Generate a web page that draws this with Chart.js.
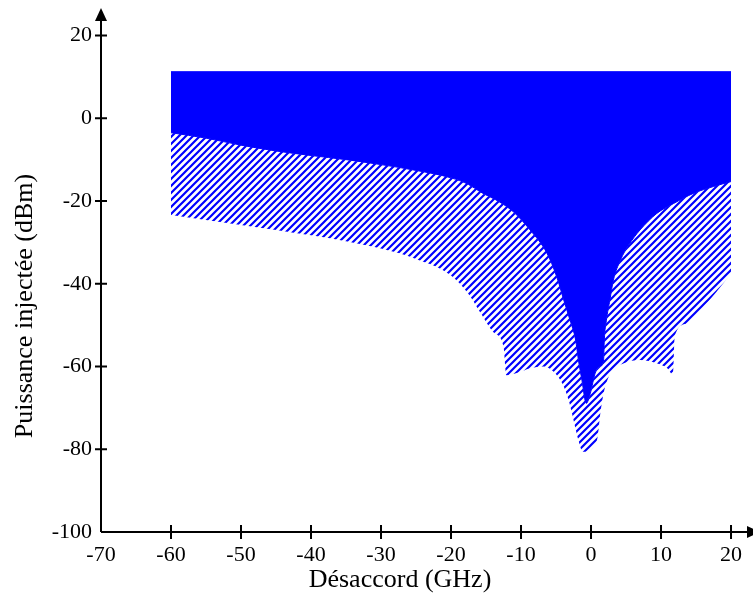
<!DOCTYPE html>
<html>
<head>
<meta charset="utf-8">
<script src="https://cdn.jsdelivr.net/npm/chart.js@4/dist/chart.umd.min.js"></script>
<style>
  body { margin: 0; background: #fff; }
  canvas { display: block; }
</style>
</head>
<body>
<canvas id="data-chart" width="753" height="598"></canvas>
<script>
// puissance max injectee (haut de la zone pleine)
const xHaut = [-60, 20];
const yHaut = [11.25, 11.25];

// limite basse de la zone pleine
const xStable = [-60, -55, -50, -45, -40, -35, -30, -25, -20, -17.5, -15.8, -13, -11.1, -8.7, -6.3, -4.9, -3.9, -3.0, -2.2, -1.8, -1.3, -0.67, -0.1, 0.6, 1.3, 1.8, 1.9, 2.2, 2.7, 3.2, 4.2, 5.4, 7.0, 9.4, 11.8, 14.7, 17.5, 20];
const yStable = [-3.5, -4.8, -6.5, -7.9, -9.0, -10.0, -11.2, -12.6, -14.4, -16.0, -17.8, -20.3, -22.6, -27.0, -32.6, -38.3, -43.9, -48.8, -53.6, -58.4, -63.3, -68.9, -66.5, -61.6, -60.0, -58.4, -53.6, -48.8, -43.9, -39.1, -34.3, -30.6, -27.0, -23.0, -20.6, -18.1, -16.5, -15.3];

// limite basse de la zone hachuree
const xVerrou = [-60, -55, -50, -45, -40, -35, -30, -25, -20, -17.5, -15.8, -13.9, -12.5, -12.1, -10.6, -8.7, -6.8, -5.3, -4.1, -3.2, -2.5, -1.8, -1.14, 0.38, 0.95, 1.33, 1.8, 2.8, 4.7, 7.0, 9.4, 10.9, 11.7, 11.95, 13.7, 16.1, 18.5, 20];
const yVerrou = [-23.4, -24.6, -25.8, -27.0, -28.3, -29.7, -31.5, -34.0, -38.0, -42.5, -47.0, -51.8, -55.2, -62.1, -61.6, -60.4, -60.0, -61.3, -64.1, -68.1, -72.9, -77.8, -80.6, -79.4, -77.0, -71.3, -66.5, -61.6, -59.2, -58.4, -59.2, -60.4, -61.9, -52.8, -49.6, -45.5, -40.7, -37.5];

const xTicks = [-70, -60, -50, -40, -30, -20, -10, 0, 10, 20];
const yTicks = [-100, -80, -60, -40, -20, 0, 20];

function points(xs, ys) {
    return xs.map((x, i) => ({ x: x, y: ys[i] }));
}

function hachures() {
    const c = document.createElement('canvas');
    c.width = 7;
    c.height = 7;
    const g = c.getContext('2d');
    g.strokeStyle = '#0000ff';
    g.lineWidth = 2.2;
    g.beginPath();
    g.moveTo(-1, 8); g.lineTo(8, -1);
    g.moveTo(-2, 2); g.lineTo(2, -2);
    g.moveTo(5, 9); g.lineTo(9, 5);
    g.stroke();
    return g.createPattern(c, 'repeat');
}

// axes avec fleches, graduations et titres
const axesPlugin = {
    id: 'axes',
    afterDraw(chart) {
        const ctx = chart.ctx;
        const xs = chart.scales.x;
        const ys = chart.scales.y;
        const x0 = xs.getPixelForValue(-70);
        const y0 = ys.getPixelForValue(-100);
        ctx.save();
        ctx.strokeStyle = '#000';
        ctx.fillStyle = '#000';
        ctx.lineWidth = 2;
        ctx.beginPath();
        ctx.moveTo(x0, y0);
        ctx.lineTo(x0, 14);
        ctx.moveTo(x0, y0);
        ctx.lineTo(752, y0);
        xTicks.slice(1).forEach(v => {
            const px = xs.getPixelForValue(v);
            ctx.moveTo(px, y0 - 7);
            ctx.lineTo(px, y0 + 7);
        });
        yTicks.slice(1).forEach(v => {
            const py = ys.getPixelForValue(v);
            ctx.moveTo(x0 - 6, py);
            ctx.lineTo(x0 + 6, py);
        });
        ctx.stroke();

        ctx.beginPath();
        ctx.moveTo(x0, 8);
        ctx.lineTo(x0 - 6, 21);
        ctx.lineTo(x0 + 6, 21);
        ctx.closePath();
        ctx.fill();
        ctx.beginPath();
        ctx.moveTo(760, y0);
        ctx.lineTo(747, y0 - 6);
        ctx.lineTo(747, y0 + 6);
        ctx.closePath();
        ctx.fill();

        ctx.font = '26px "Liberation Serif", "Times New Roman", serif';
        ctx.textAlign = 'center';
        ctx.textBaseline = 'alphabetic';
        ctx.fillText('Désaccord (GHz)', 400, 587);
        ctx.translate(31.5, 306);
        ctx.rotate(-Math.PI / 2);
        ctx.fillText('Puissance injectée (dBm)', 0, 0);
        ctx.restore();
    }
};

function graph() {
    const ctx = document.getElementById('data-chart').getContext('2d');
    const tickFont = { family: '"Liberation Serif", "Times New Roman", serif', size: 22 };
    return new Chart(ctx, {
        type: 'line',
        data: {
            datasets: [{
                data: points(xHaut, yHaut),
                borderColor: '#0000ff',
                borderWidth: 1,
                backgroundColor: '#0000ff',
                fill: '+1',
                pointRadius: 0
            }, {
                data: points(xStable, yStable),
                borderColor: '#0000ff',
                borderWidth: 1,
                backgroundColor: hachures(),
                fill: '+1',
                pointRadius: 0,
                cubicInterpolationMode: 'monotone'
            }, {
                data: points(xVerrou, yVerrou),
                borderColor: 'rgba(0,0,0,0)',
                borderWidth: 1,
                fill: false,
                pointRadius: 0,
                cubicInterpolationMode: 'monotone'
            }]
        },
        options: {
            responsive: false,
            animation: false,
            layout: { padding: { top: 8, right: 0, bottom: 0, left: 0 } },
            plugins: { legend: { display: false }, tooltip: { enabled: false } },
            scales: {
                x: {
                    type: 'linear',
                    min: -70,
                    max: 23.14,
                    grid: { display: false, drawTicks: false },
                    border: { display: false },
                    ticks: { stepSize: 10, includeBounds: false, maxRotation: 0, autoSkip: false, padding: 10, color: '#000', font: tickFont },
                    afterFit: s => { s.height = 66; s.paddingLeft = 0; s.paddingRight = 0; }
                },
                y: {
                    min: -100,
                    max: 26.65,
                    grid: { display: false, drawTicks: false },
                    border: { display: false },
                    ticks: { stepSize: 20, includeBounds: false, padding: 9, color: '#000', font: tickFont },
                    afterFit: s => { s.width = 101; s.paddingTop = 0; s.paddingBottom = 0; }
                }
            }
        },
        plugins: [axesPlugin]
    });
}

graph();
</script>
</body>
</html>
